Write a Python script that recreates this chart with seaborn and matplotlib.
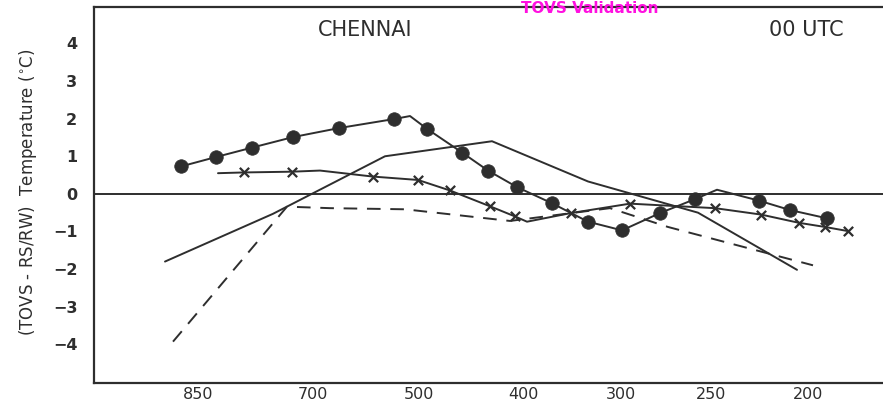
import matplotlib
matplotlib.use("Agg")
import matplotlib.pyplot as plt
import seaborn as sns
import pandas as pd

# ---- data (x = position along the pressure axis, arbitrary axis units) ----
circ_x = [1.81, 2.16, 2.52, 2.93, 3.39, 3.94, 4.10, 4.27, 4.62, 4.88, 5.17, 5.52, 5.88, 6.22, 6.60, 6.95, 7.17, 7.59, 7.90, 8.27]
circ_y = [0.73, 0.98, 1.23, 1.51, 1.75, 1.99, 2.07, 1.73, 1.10, 0.62, 0.18, -0.25, -0.74, -0.97, -0.51, -0.14, 0.11, -0.18, -0.43, -0.65]
circ_marked = [0, 1, 2, 3, 4, 5, 7, 8, 9, 10, 11, 12, 13, 14, 15, 17, 18, 19]

cross_x = [2.18, 2.44, 2.92, 3.20, 3.73, 4.18, 4.50, 4.90, 5.15, 5.27, 5.71, 6.30, 7.15, 7.61, 7.99, 8.25, 8.48]
cross_y = [0.55, 0.57, 0.59, 0.62, 0.46, 0.37, 0.09, -0.33, -0.60, -0.74, -0.51, -0.26, -0.38, -0.55, -0.77, -0.88, -0.99]
cross_marked = [1, 2, 4, 5, 6, 7, 8, 10, 11, 12, 13, 14, 15, 16]

solid_x = [1.65, 2.73, 3.85, 4.92, 5.88, 6.98, 7.97]
solid_y = [-1.80, -0.53, 1.00, 1.40, 0.33, -0.50, -2.02]

dash_x = [1.73, 2.87, 3.30, 4.05, 5.10, 6.10, 6.68, 8.13]
dash_y = [-3.93, -0.34, -0.38, -0.41, -0.72, -0.38, -0.88, -1.90]

tick_pos = [1.98, 3.13, 4.19, 5.23, 6.21, 7.11, 8.08]
tick_labels = ["850", "700", "500", "400", "300", "250", "200"]
y_ticks = [4, 3, 2, 1, 0, -1, -2, -3, -4]

station = "CHENNAI"
time_label = "00 UTC"
ylabel = "(TOVS - RS/RW)  Temperature ($^{\\circ}$C)"
banner = "TOVS Validation"

# ---- figure ----
sns.set_theme(style="white")
plt.rcParams["font.family"] = ["DejaVu Sans"]
ink = "#2e2e2e"

W, H = 883, 405
fig = plt.figure(figsize=(W / 100, H / 100), dpi=100)
ax = fig.add_axes([94 / W, 22 / H, (905 - 94) / W, 376 / H])

df_c = pd.DataFrame({"x": circ_x, "y": circ_y})
df_x = pd.DataFrame({"x": cross_x, "y": cross_y})
df_s = pd.DataFrame({"x": solid_x, "y": solid_y})
df_d = pd.DataFrame({"x": dash_x, "y": dash_y})

lw = 1.4
sns.lineplot(data=df_s, x="x", y="y", sort=False, estimator=None, color=ink, lw=lw, ax=ax)
sns.lineplot(data=df_d, x="x", y="y", sort=False, estimator=None, color=ink, lw=lw, ax=ax,
             dashes=False, linestyle=(0, (7, 5)))
sns.lineplot(data=df_x, x="x", y="y", sort=False, estimator=None, color=ink, lw=lw, ax=ax)
sns.lineplot(data=df_c, x="x", y="y", sort=False, estimator=None, color=ink, lw=lw, ax=ax)

sns.scatterplot(data=df_c.iloc[circ_marked], x="x", y="y", marker="o", s=95,
                color=ink, edgecolor=ink, linewidth=0.5, ax=ax, zorder=5)
sns.scatterplot(data=df_x.iloc[cross_marked], x="x", y="y", marker="x", s=45,
                color=ink, linewidth=1.6, ax=ax, zorder=5)

ax.axhline(0, color=ink, lw=1.4, zorder=1)

ax.set_xlim(0.94, 9.05)
ax.set_ylim(-5.03, 4.97)
ax.set_xticks(tick_pos)
ax.set_xticklabels(tick_labels, fontsize=11.5)
ax.set_yticks(y_ticks)
ax.set_yticklabels([("\u2212" + str(-v)) if v < 0 else str(v) for v in y_ticks],
                   fontsize=11.5, fontweight="bold")
ax.tick_params(axis="both", direction="in", length=11, width=1.3, color=ink, labelcolor=ink)
ax.tick_params(axis="y", pad=12)
ax.tick_params(axis="x", pad=3)
ax.set_xlabel("")
ax.set_ylabel("")
for sp in ax.spines.values():
    sp.set_color(ink)
    sp.set_linewidth(1.6)

fig.text(365 / W, 1 - 30 / H, station, fontsize=15, color=ink, ha="center", va="center")
fig.text(806 / W, 1 - 30 / H, time_label, fontsize=15, color=ink, ha="center", va="center")
fig.text(28 / W, 1 - 192 / H, ylabel, fontsize=12, color=ink, rotation=90,
         ha="center", va="center")
fig.text(590 / W, 1 - 1 / H, banner, fontsize=11, fontweight="bold", color="#ff10e0",
         ha="center", va="top")

fig.savefig("out.png", dpi=100)
